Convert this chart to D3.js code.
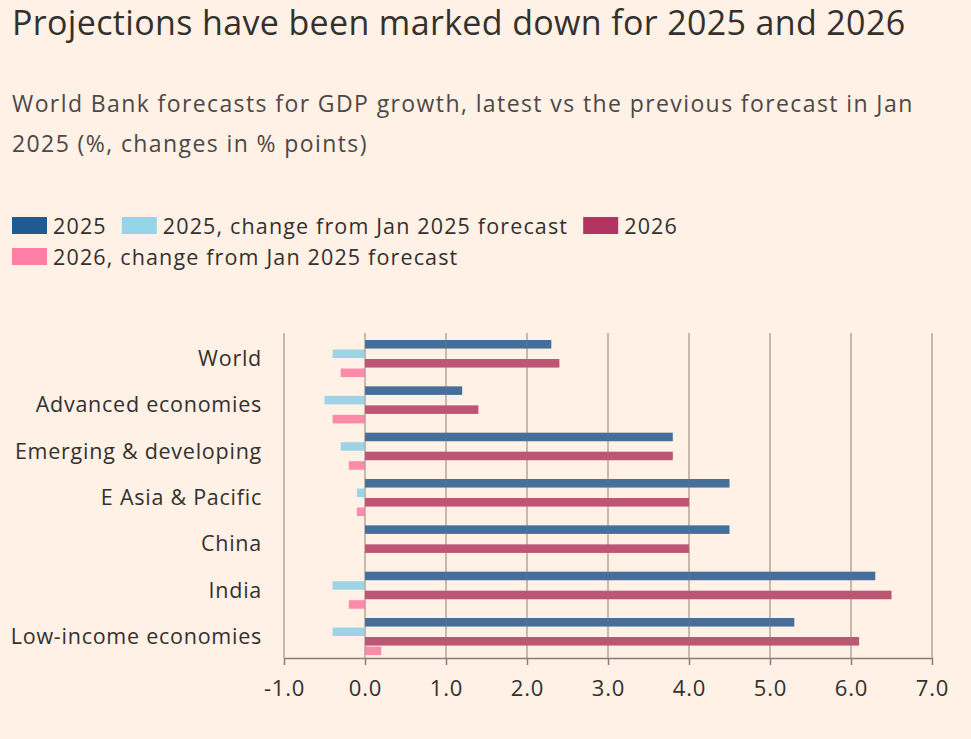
<!DOCTYPE html>
<html><head><meta charset="utf-8">
<script src="https://cdn.jsdelivr.net/npm/d3@7"></script>
<style>
body{margin:0;background:#fff1e5;}
svg{display:block;}
text{font-family:"Open Sans","Noto Sans",sans-serif;fill:#33302e;}
</style></head><body>
<svg id="c" width="971" height="739"></svg>
<script>
const categories = ["World","Advanced economies","Emerging & developing","E Asia & Pacific","China","India","Low-income economies"];
const seriesNames = ["2025","2025, change from Jan 2025 forecast","2026","2026, change from Jan 2025 forecast"];
const v2025 = [2.3,1.2,3.8,4.5,4.5,6.3,5.3];
const c2025 = [-0.4,-0.5,-0.3,-0.1,0,-0.4,-0.4];
const v2026 = [2.4,1.4,3.8,4.0,4.0,6.5,6.1];
const c2026 = [-0.3,-0.4,-0.2,-0.1,0,-0.2,0.2];
const xTicks = [-1,0,1,2,3,4,5,6,7];
const legendColors = ["#1f5a93","#96d4e8","#b23461","#ff7fa6"];
const barColors = ["#456f9a","#9fd3e4","#bd5575","#fc8aab"];

const series = [v2025,c2025,v2026,c2026];
const svg = d3.select("#c");
svg.append("rect").attr("width",971).attr("height",739).attr("fill","#fff1e5");

svg.append("text").attr("x",12).attr("y",35).style("font-size","34px").style("letter-spacing","0.35px").text("Projections have been marked down for 2025 and 2026");
svg.append("text").attr("x",12).attr("y",112).style("font-size","23px").style("letter-spacing","1.4px").style("fill","#4d4845").text("World Bank forecasts for GDP growth, latest vs the previous forecast in Jan");
svg.append("text").attr("x",12).attr("y",152).style("font-size","23px").style("letter-spacing","1.4px").style("fill","#4d4845").text("2025 (%, changes in % points)");

// legend
const rows = [[0,1,2],[3]];
const rowY = [225.5,256.5];
rows.forEach((r,ri)=>{
  let cx = 12;
  r.forEach(i=>{
    const g = svg.append("g").attr("transform",`translate(${cx},${rowY[ri]})`);
    g.append("rect").attr("x",0).attr("y",-8.5).attr("width",35).attr("height",17).attr("fill",legendColors[i]);
    const t = g.append("text").attr("x",41).attr("y",8).style("font-size","21.5px").style("letter-spacing","1.15px").text(seriesNames[i]);
    cx += 41 + t.node().getComputedTextLength() + 15;
  });
});

const x = d3.scaleLinear().domain([-1,7]).range([284,932]);
const y0 = d3.scaleBand().domain(categories).range([337.7,657.4]).paddingInner(0.2).paddingOuter(0.05);
const y1 = d3.scaleBand().domain(d3.range(4)).range([0,y0.bandwidth()]).paddingInner(0.1);

// grid
svg.append("g").selectAll("line").data(xTicks).join("line")
  .attr("x1",d=>x(d)).attr("x2",d=>x(d)).attr("y1",333).attr("y2",658)
  .attr("stroke","#c8b9ad").attr("stroke-width",1.5);

// bars
const gb = svg.append("g");
categories.forEach((c,ci)=>{
  series.forEach((s,si)=>{
    const v = s[ci];
    if (v===0) return;
    gb.append("rect")
      .attr("x",x(Math.min(0,v))).attr("width",Math.abs(x(v)-x(0)))
      .attr("y",y0(c)+y1(si)).attr("height",y1.bandwidth())
      .attr("fill",barColors[si]);
  });
});
// gridlines faintly over bars
svg.append("g").selectAll("line").data(xTicks).join("line")
  .attr("x1",d=>x(d)).attr("x2",d=>x(d)).attr("y1",333).attr("y2",658)
  .attr("stroke","#8a7a70").attr("stroke-opacity",0.25).attr("stroke-width",1.5);

// category labels
svg.append("g").selectAll("text").data(categories).join("text")
  .attr("x",262).attr("y",d=>y0(d)+y0.bandwidth()/2).attr("dy","0.35em")
  .attr("text-anchor","end").style("font-size","21.5px").style("letter-spacing","0.75px").text(d=>d);

// x axis
const ax = svg.append("g").attr("transform","translate(0,658)")
  .call(d3.axisBottom(x).tickValues(xTicks).tickFormat(d3.format(".1f")).tickSize(7).tickSizeOuter(0));
ax.select(".domain").attr("stroke","#8a7d76").attr("stroke-width",1.5);
ax.selectAll(".tick line").attr("stroke","#8a7d76").attr("stroke-width",1.5);
ax.selectAll(".tick text").style("font-size","22px").style("letter-spacing","0.8px").style("font-family","'Open Sans','Noto Sans',sans-serif").attr("fill","#33302e").attr("y",0).attr("dy","38px")
  .text(d=>d<0?"-"+Math.abs(d).toFixed(1):d.toFixed(1));
</script>
</body></html>
